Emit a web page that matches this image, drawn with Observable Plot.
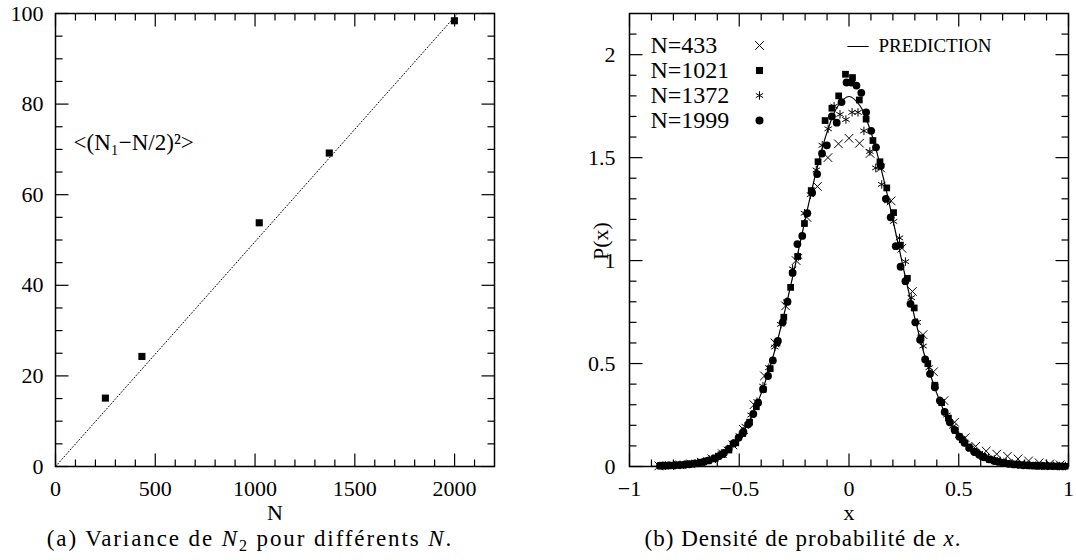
<!DOCTYPE html>
<html><head><meta charset="utf-8">
<script src="https://cdn.jsdelivr.net/npm/d3@7"></script>
<script src="https://cdn.jsdelivr.net/npm/@observablehq/plot@0.6"></script>
<style>
html,body{margin:0;padding:0;background:#fff;}
#wrap{position:relative;width:1076px;height:560px;overflow:hidden;font-family:"Liberation Serif",serif;color:#000;}
#pa{position:absolute;left:0;top:0;}
#pb{position:absolute;left:538px;top:0;}
.cap{position:absolute;top:525px;line-height:28px;text-align:center;font-size:23px;white-space:nowrap;}
.cap sub{font-size:70%;vertical-align:-0.3em;line-height:0;}
</style></head><body>
<div id="wrap">
<div id="pa"></div><div id="pb"></div>
<div class="cap" style="left:0;width:500px;letter-spacing:1.9px">(a) Variance de <i>N</i><sub>2</sub> pour différents <i>N</i>.</div>
<div class="cap" style="left:530px;width:546px;letter-spacing:1px">(b) Densité de probabilité de <i>x</i>.</div>
</div>
<script>
// ---------- Panel (a) data ----------
const nValues = [250, 433, 1021, 1372, 1999];
const varValues = [15.1, 24.3, 53.8, 69.2, 98.4];
const fitN = [0, 2015];
const fitV = [0, 100];
const aXDomain = [0, 2200];
const aYDomain = [0, 100];
const aXMajor = [0, 500, 1000, 1500, 2000];
const aXMinor = [100,200,300,400,600,700,800,900,1100,1200,1300,1400,1600,1700,1800,1900,2100];
const aYMajor = [0, 20, 40, 60, 80, 100];
const aYMinor = [5,10,15,25,30,35,45,50,55,65,70,75,85,90,95];
const aLabel = "<(N\u2081\u2212N/2)\u00B2>";

// ---------- Panel (b) data ----------
const bXDomain = [-1, 1];
const bYDomain = [0, 2.2];
const legendLabels = ["N=433", "N=1021", "N=1372", "N=1999"];
const x433 = [-0.866,-0.818,-0.770,-0.722,-0.673,-0.625,-0.577,-0.529,-0.481,-0.433,-0.385,-0.337,-0.289,-0.241,-0.192,-0.144,-0.096,-0.048,0,0.048,0.096,0.144,0.192,0.241,0.289,0.337,0.385,0.433,0.481,0.529,0.577,0.625,0.673,0.722,0.770,0.818,0.866,0.914,0.962];
const p433 = [0.003,0.005,0.008,0.013,0.021,0.037,0.062,0.105,0.18,0.30,0.44,0.60,0.78,1.00,1.21,1.36,1.50,1.567,1.594,1.57,1.52,1.45,1.29,1.06,0.85,0.64,0.46,0.32,0.215,0.14,0.098,0.075,0.06,0.05,0.037,0.027,0.018,0.012,0.008];

const x1021 = [-0.859,-0.828,-0.797,-0.766,-0.734,-0.703,-0.672,-0.641,-0.609,-0.578,-0.547,-0.516,-0.484,-0.453,-0.422,-0.391,-0.359,-0.328,-0.297,-0.266,-0.234,-0.203,-0.172,-0.141,-0.109,-0.078,-0.047,-0.016,0.016,0.047,0.078,0.109,0.141,0.172,0.203,0.234,0.266,0.297,0.328,0.359,0.391,0.422,0.453,0.484,0.516,0.547,0.578,0.609,0.641,0.672,0.703,0.734,0.766,0.797,0.828,0.859,0.891,0.922,0.953,0.984];
const p1021 = [0.003,0.004,0.005,0.008,0.011,0.015,0.021,0.028,0.04,0.058,0.08,0.115,0.16,0.215,0.29,0.375,0.475,0.60,0.725,0.87,1.02,1.18,1.34,1.48,1.68,1.74,1.80,1.905,1.889,1.78,1.687,1.583,1.48,1.353,1.233,1.075,0.914,0.77,0.625,0.50,0.395,0.31,0.235,0.175,0.13,0.095,0.068,0.048,0.034,0.025,0.018,0.013,0.01,0.007,0.005,0.004,0.003,0.002,0.002,0.001];

const x1372 = [-0.851,-0.824,-0.797,-0.770,-0.743,-0.716,-0.689,-0.662,-0.635,-0.608,-0.581,-0.554,-0.527,-0.500,-0.473,-0.446,-0.419,-0.392,-0.365,-0.338,-0.311,-0.284,-0.257,-0.230,-0.203,-0.176,-0.149,-0.122,-0.095,-0.068,-0.041,-0.014,0.014,0.041,0.068,0.095,0.122,0.149,0.176,0.203,0.230,0.257,0.284,0.311,0.338,0.365,0.392,0.419,0.446,0.473,0.500,0.527,0.554,0.581,0.608,0.635,0.662,0.689,0.716,0.743,0.770,0.797,0.824,0.851,0.878,0.905,0.932,0.959,0.986];
const p1372 = [0.004,0.005,0.006,0.008,0.010,0.013,0.017,0.024,0.033,0.046,0.062,0.085,0.113,0.150,0.195,0.25,0.315,0.39,0.48,0.58,0.69,0.80,0.96,1.02,1.23,1.32,1.44,1.56,1.64,1.75,1.71,1.685,1.72,1.72,1.63,1.53,1.45,1.37,1.29,1.19,1.11,0.995,0.82,0.70,0.585,0.48,0.39,0.315,0.25,0.195,0.15,0.118,0.09,0.07,0.055,0.042,0.034,0.027,0.021,0.016,0.012,0.009,0.007,0.005,0.004,0.003,0.003,0.002,0.002];

const x1999 = [-0.861,-0.839,-0.817,-0.794,-0.772,-0.750,-0.727,-0.705,-0.682,-0.660,-0.638,-0.615,-0.593,-0.570,-0.548,-0.526,-0.503,-0.481,-0.459,-0.436,-0.414,-0.391,-0.369,-0.347,-0.324,-0.302,-0.280,-0.257,-0.235,-0.213,-0.190,-0.168,-0.145,-0.123,-0.101,-0.078,-0.056,-0.034,-0.011,0.011,0.034,0.056,0.078,0.101,0.123,0.145,0.168,0.190,0.213,0.235,0.257,0.280,0.302,0.324,0.347,0.369,0.391,0.414,0.436,0.459,0.481,0.503,0.526,0.548,0.570,0.593,0.615,0.638,0.660,0.682,0.705,0.727,0.750,0.772,0.794,0.817,0.839,0.861,0.884,0.906,0.928,0.951,0.973];
const p1999 = [0.004,0.004,0.005,0.006,0.007,0.009,0.011,0.014,0.018,0.023,0.030,0.039,0.050,0.066,0.086,0.112,0.140,0.168,0.205,0.255,0.31,0.375,0.44,0.515,0.61,0.70,0.80,0.94,1.08,1.12,1.23,1.33,1.42,1.52,1.56,1.70,1.67,1.77,1.865,1.865,1.85,1.815,1.72,1.63,1.55,1.46,1.30,1.21,1.07,0.97,0.90,0.79,0.70,0.615,0.52,0.45,0.385,0.32,0.265,0.215,0.178,0.145,0.115,0.09,0.072,0.057,0.045,0.035,0.028,0.022,0.017,0.013,0.010,0.008,0.006,0.005,0.004,0.003,0.003,0.002,0.002,0.001,0.001];

const predX = [-0.90,-0.85,-0.80,-0.75,-0.70,-0.65,-0.60,-0.55,-0.50,-0.45,-0.40,-0.35,-0.30,-0.25,-0.20,-0.15,-0.10,-0.05,0,0.05,0.10,0.15,0.20,0.25,0.30,0.35,0.40,0.45,0.50,0.55,0.60,0.65,0.70,0.75,0.80,0.85,0.90,0.95,1.00];
const predP = [0.0004,0.001,0.0027,0.006,0.0125,0.0247,0.0467,0.0836,0.142,0.231,0.355,0.519,0.721,0.953,1.198,1.430,1.624,1.752,1.797,1.752,1.624,1.430,1.198,0.953,0.721,0.519,0.355,0.231,0.142,0.0836,0.0467,0.0247,0.0125,0.006,0.0027,0.001,0.0004,0.0002,0.0001];

const bXMajor = [-1, -0.5, 0, 0.5, 1];
const bXMinor = [-0.9,-0.8,-0.7,-0.6,-0.4,-0.3,-0.2,-0.1,0.1,0.2,0.3,0.4,0.6,0.7,0.8,0.9];
const bYMajor = [0, 0.5, 1, 1.5, 2];
const bYMinor = [0.1,0.2,0.3,0.4,0.6,0.7,0.8,0.9,1.1,1.2,1.3,1.4,1.6,1.7,1.8,1.9,2.1];

// ---------- helpers ----------
const MAJ = 13, MIN = 7;
const FONT = "Liberation Serif";
const fmt = d => (d < 0 ? "\u2212" + (-d) : String(d));
const zipXY = (xs, ys) => xs.map((x, i) => ({x, y: ys[i]}));
const segSym = (dx, dy) => ({draw(ctx) { ctx.moveTo(0, 0); ctx.lineTo(dx, dy); }});

// inward ticks drawn as short line symbols anchored on the frame edges
function dotTicks(xMaj, xMin, yMaj, yMin, xDom, yDom) {
  const m = [];
  const o = {stroke: "#000", fill: "none", strokeWidth: 1.2};
  for (const [arr, len] of [[xMaj, MAJ], [xMin, MIN]]) {
    m.push(Plot.dot(arr, {...o, x: d => d, y: () => yDom[0], symbol: segSym(0, -len)}));
    m.push(Plot.dot(arr, {...o, x: d => d, y: () => yDom[1], symbol: segSym(0, len)}));
  }
  for (const [arr, len] of [[yMaj, MAJ], [yMin, MIN]]) {
    m.push(Plot.dot(arr, {...o, y: d => d, x: () => xDom[0], symbol: segSym(len, 0)}));
    m.push(Plot.dot(arr, {...o, y: d => d, x: () => xDom[1], symbol: segSym(-len, 0)}));
  }
  return m;
}
// fallback: rules inset from the frame
function ruleTicks(xMaj, xMin, yMaj, yMin, W, H) {
  const m = [];
  for (const [arr, len] of [[xMaj, MAJ], [xMin, MIN]]) {
    m.push(Plot.ruleX(arr, {x: d => d, insetTop: H - len, strokeWidth: 1.2}));
    m.push(Plot.ruleX(arr, {x: d => d, insetBottom: H - len, strokeWidth: 1.2}));
  }
  for (const [arr, len] of [[yMaj, MAJ], [yMin, MIN]]) {
    m.push(Plot.ruleY(arr, {y: d => d, insetRight: W - len, strokeWidth: 1.2}));
    m.push(Plot.ruleY(arr, {y: d => d, insetLeft: W - len, strokeWidth: 1.2}));
  }
  return m;
}

const style = {background: "transparent", fontFamily: "Liberation Serif, serif", fontSize: "21px", color: "#000", overflow: "visible"};

function buildA(tickMarks) {
  return Plot.plot({
    width: 538, height: 515,
    marginLeft: 55, marginRight: 44, marginTop: 13, marginBottom: 49,
    x: {domain: aXDomain},
    y: {domain: aYDomain},
    style,
    marks: [
      Plot.line(zipXY(fitN, fitV), {x: "x", y: "y", strokeWidth: 1, strokeDasharray: "1,2.2"}),
      Plot.dot(zipXY(nValues, varValues), {x: "x", y: "y", symbol: "square", r: 4, fill: "#000", stroke: "none"}),
      Plot.text([aLabel], {frameAnchor: "top-left", dx: 18, dy: 129, textAnchor: "start", lineAnchor: "middle", fontSize: 23, fontFamily: FONT}),
      Plot.text(["N"], {frameAnchor: "bottom", dy: 46, lineAnchor: "middle", fontSize: 22, fontFamily: FONT}),
      ...tickMarks,
      Plot.axisX({ticks: aXMajor, tickSize: 0, tickPadding: 14, fontSize: 22, fontFamily: FONT, label: null, tickFormat: fmt}),
      Plot.axisY({ticks: aYMajor, tickSize: 0, tickPadding: 12, fontSize: 22, fontFamily: FONT, label: null, tickFormat: fmt}),
      Plot.frame({strokeWidth: 1.5})
    ]
  });
}

const legendDy = [32, 57, 82, 107];
const legendSym = ["times", "square", "asterisk", "circle"];
const legendMarks = [];
legendLabels.forEach((lab, i) => {
  legendMarks.push(Plot.text([lab], {frameAnchor: "top-left", dx: 21, dy: legendDy[i], textAnchor: "start", lineAnchor: "middle", fontSize: 24, fontFamily: FONT}));
  const filled = legendSym[i] === "square" || legendSym[i] === "circle";
  legendMarks.push(Plot.dot([0], {frameAnchor: "top-left", dx: 130, dy: legendDy[i], symbol: legendSym[i], r: 4,
    fill: filled ? "#000" : "none", stroke: filled ? "none" : "#000", strokeWidth: 1}));
});

function buildB(tickMarks) {
  return Plot.plot({
    width: 538, height: 515,
    marginLeft: 91, marginRight: 8, marginTop: 13, marginBottom: 49,
    x: {domain: bXDomain},
    y: {domain: bYDomain},
    style,
    marks: [
      Plot.line(zipXY(predX, predP), {x: "x", y: "y", curve: "catmull-rom", strokeWidth: 1.2}),
      Plot.dot(zipXY(x433, p433), {x: "x", y: "y", symbol: "times", r: 4, stroke: "#000", strokeWidth: 1}),
      Plot.dot(zipXY(x1021, p1021), {x: "x", y: "y", symbol: "square", r: 3.8, fill: "#000", stroke: "none"}),
      Plot.dot(zipXY(x1372, p1372), {x: "x", y: "y", symbol: "asterisk", r: 4, stroke: "#000", strokeWidth: 1}),
      Plot.dot(zipXY(x1999, p1999), {x: "x", y: "y", symbol: "circle", r: 3.9, fill: "#000", stroke: "none"}),
      ...legendMarks,
      Plot.text(["\u2014"], {frameAnchor: "top-left", dx: 218, dy: 32, textAnchor: "start", lineAnchor: "middle", fontSize: 21, fontFamily: FONT}),
      Plot.text(["PREDICTION"], {frameAnchor: "top-left", dx: 249, dy: 32, textAnchor: "start", lineAnchor: "middle", fontSize: 19, fontFamily: FONT}),
      Plot.text(["P(x)"], {frameAnchor: "left", dx: -29, dy: 20, rotate: -90, lineAnchor: "middle", fontSize: 22, fontFamily: FONT}),
      Plot.text(["x"], {frameAnchor: "bottom", dy: 46, lineAnchor: "middle", fontSize: 22, fontFamily: FONT}),
      ...tickMarks,
      Plot.axisX({ticks: bXMajor, tickSize: 0, tickPadding: 14, fontSize: 22, fontFamily: FONT, label: null, tickFormat: fmt}),
      Plot.axisY({ticks: bYMajor, tickSize: 0, tickPadding: 14, fontSize: 22, fontFamily: FONT, label: null, tickFormat: fmt}),
      Plot.frame({strokeWidth: 1.5})
    ]
  });
}

let plotA, plotB;
try {
  plotA = buildA(dotTicks(aXMajor, aXMinor, aYMajor, aYMinor, aXDomain, aYDomain));
} catch (e) {
  plotA = buildA(ruleTicks(aXMajor, aXMinor, aYMajor, aYMinor, 439, 453));
}
try {
  plotB = buildB(dotTicks(bXMajor, bXMinor, bYMajor, bYMinor, bXDomain, bYDomain));
} catch (e) {
  plotB = buildB(ruleTicks(bXMajor, bXMinor, bYMajor, bYMinor, 439, 453));
}
document.getElementById("pa").appendChild(plotA);
document.getElementById("pb").appendChild(plotB);
</script>
</body></html>
